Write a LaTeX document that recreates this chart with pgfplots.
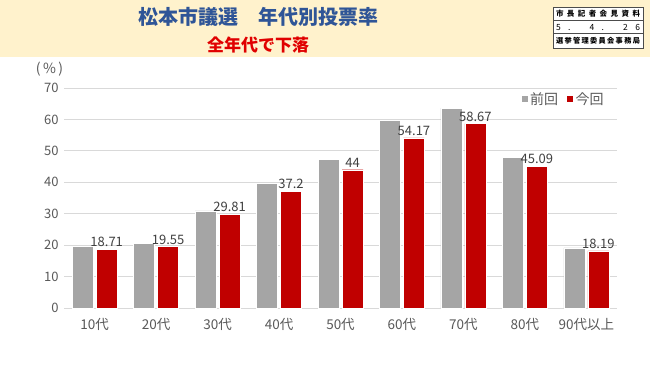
\documentclass[border=0pt]{standalone}
\usepackage{pgfplots}
\pgfplotsset{compat=1.18}
\usepackage{fontspec}
\setmainfont{Noto Sans CJK JP}
\definecolor{band}{HTML}{FFF2CC}
\definecolor{titleblue}{HTML}{2F5597}
\definecolor{subred}{HTML}{E00000}
\definecolor{bargray}{HTML}{A5A5A5}
\definecolor{barred}{HTML}{C00000}
\definecolor{ticktext}{HTML}{595959}
\definecolor{labtext}{HTML}{404040}
\definecolor{gridc}{HTML}{D9D9D9}
\begin{document}
\begin{tikzpicture}[x=1pt,y=1pt]
\fill[white] (0,0) rectangle (650,365);
\fill[band] (0,308) rectangle (650,365);
\node[font=\bfseries\fontsize{20}{24}\selectfont, text=titleblue] at (258,348) {松本市議選　年代別投票率};
\node[font=\bfseries\fontsize{17}{20}\selectfont, text=subred] at (258,320) {全年代で下落};
\draw[fill=white, draw=black!70, line width=0.5pt] (553,357.7) rectangle (643,316.7);
\draw[draw=black!70, line width=0.5pt] (553,344.3) -- (643,344.3) (553,331.7) -- (643,331.7);
\node[font=\bfseries\fontsize{7.5}{8}\selectfont, inner sep=0pt] at (598,351) {\makebox[84pt][s]{市 長 記 者 会 見 資 料}};
\node[font=\fontsize{8.5}{9}\selectfont, inner sep=0pt] at (598,338) {\makebox[84pt][s]{5 . 4 . 2 6}};
\node[font=\bfseries\fontsize{7.2}{8}\selectfont, inner sep=0pt] at (598,324.2) {\makebox[84pt][s]{選 挙 管 理 委 員 会 事 務 局}};
\node[font=\fontsize{14}{16}\selectfont, text=ticktext] at (49.5,296) {(\,\%\,)};
\begin{axis}[
  at={(64pt,57pt)}, anchor=south west, scale only axis,
  width=553pt, height=220pt,
  xmin=-0.5, xmax=8.5, ymin=0, ymax=70,
  ytick={0,10,...,70},
  xtick={0,...,8},
  xticklabels={10代,20代,30代,40代,50代,60代,70代,80代,90代以上},
  axis line style={draw=none},
  tick style={draw=none},
  ymajorgrids, grid style={color=gridc, line width=0.8pt},
  /pgf/number format/assume math mode=true,
  yticklabel style={text=ticktext, font=\fontsize{13}{15}\selectfont, xshift=-2pt},
  xticklabel style={text=ticktext, font=\fontsize{13.5}{15}\selectfont, yshift=-2pt},
  ybar, bar width=21pt,
  legend style={at={(0.985,0.95)}, anchor=east, draw=none, fill=none,
    font=\fontsize{14}{16}\selectfont, text=ticktext,
    legend columns=2, /tikz/every even column/.append style={column sep=6pt}},
  legend image code/.code={\fill[#1] (0pt,-3.5pt) rectangle (7pt,3.5pt);},
  clip=false,
]
\addplot[fill=bargray, draw=white, line width=0.4pt, bar shift=-12pt] coordinates {
  (0,19.6) (1,20.6) (2,30.9) (3,39.6) (4,47.2) (5,59.6) (6,63.6) (7,48.0) (8,19.1)};
\addlegendentry{前回}
\addplot[fill=barred, draw=white, line width=0.4pt, bar shift=12pt,
  point meta=explicit symbolic, nodes near coords,
  every node near coord/.append style={font=\fontsize{13}{15}\selectfont, text=labtext, inner sep=2pt}] coordinates {
  (0,18.71) [18.71] (1,19.55) [19.55] (2,29.81) [29.81] (3,37.2) [37.2] (4,44) [44]
  (5,54.17) [54.17] (6,58.67) [58.67] (7,45.09) [45.09] (8,18.19) [18.19]};
\addlegendentry{今回}
\end{axis}
\end{tikzpicture}
\end{document}
